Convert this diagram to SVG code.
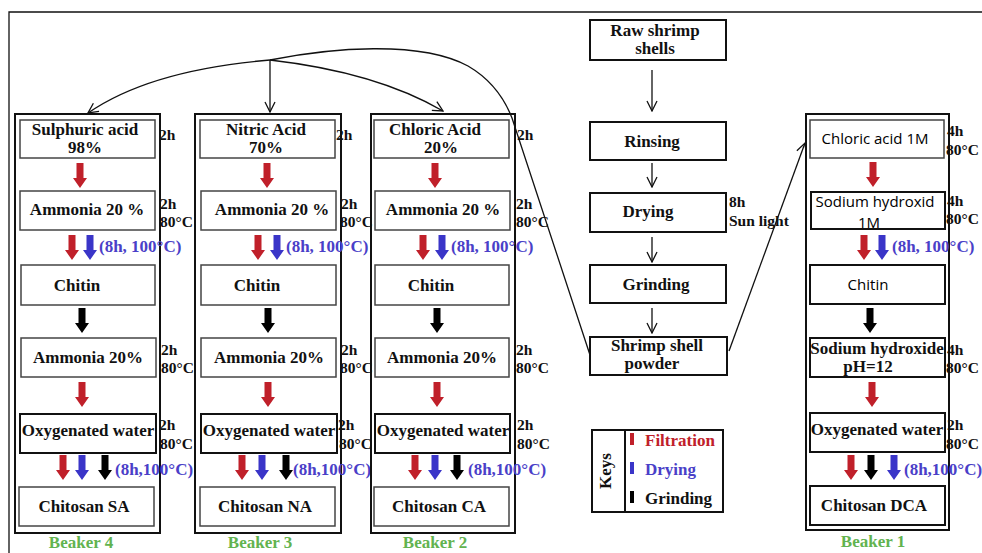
<svg xmlns="http://www.w3.org/2000/svg" xmlns:xlink="http://www.w3.org/1999/xlink" width="982" height="553" viewBox="0 0 982 553">
<style>
.t{font-family:"Liberation Serif","Times New Roman",serif;font-weight:bold;font-size:17px;fill:#111;text-anchor:middle}
.s{font-family:"Liberation Serif","Times New Roman",serif;font-weight:bold;font-size:15.5px;fill:#111}
.c{font-family:"Open Sans","Noto Sans",sans-serif;font-weight:normal;font-size:15px;fill:#000;text-anchor:middle}
.b{font-family:"Liberation Serif","Times New Roman",serif;font-weight:bold;font-size:17px;fill:#4a3fc8}
.g{font-family:"Liberation Serif","Times New Roman",serif;font-weight:bold;font-size:17px;fill:#62b34f;text-anchor:middle}
.k2{font-family:"Liberation Serif","Times New Roman",serif;font-weight:bold;font-size:17px}
.outer{fill:none;stroke:#111;stroke-width:2}
.box{fill:#fff;stroke:#444;stroke-width:1.5}
.bx{fill:#fff;stroke:#111;stroke-width:2}
.ln{fill:none;stroke:#111;stroke-width:1.3}
.r{fill:#c0202a}.u{fill:#3a35c8}.k{fill:#000}
</style>
<defs>
<path id="ar" d="M-3.5,0 H3.5 V15 H7 L0,25 L-7,15 H-3.5 Z"/>
<marker id="open" viewBox="0 0 12 12" refX="11" refY="6" markerWidth="12" markerHeight="12" markerUnits="userSpaceOnUse" orient="auto">
<path d="M1,1 L11,6 L1,11" fill="none" stroke="#111" stroke-width="1.3"/>
</marker>
</defs>
<rect width="982" height="553" fill="#fff"/>
<g id="frame"><path d="M9,553 V12 H982" class="ln" stroke-width="1.5"/></g>

<g id="connectors">
<path class="ln" d="M270,60 Q150,70 88,113" marker-end="url(#open)"/>
<path class="ln" d="M270,60 L270,112" marker-end="url(#open)"/>
<path class="ln" d="M270,60 C340,68 400,86 443,111" marker-end="url(#open)"/>
<path class="ln" d="M270,60 C330,48 420,40 468,66 C492,80 505,100 512,118 L590,355"/>
<path class="ln" d="M729,351 L805,143" marker-end="url(#open)"/>
<path class="ln" d="M652,70 V111" marker-end="url(#open)"/>
<path class="ln" d="M652,163 V187" marker-end="url(#open)"/>
<path class="ln" d="M652,237 V262" marker-end="url(#open)"/>
<path class="ln" d="M652,308 V333" marker-end="url(#open)"/>
</g>

<g id="beaker4">
<rect class="outer" x="15" y="114" width="145" height="419"/>
<rect class="box" x="20" y="120" width="135" height="38"/>
<text class="t" x="85" y="135">Sulphuric acid</text><text class="t" x="85" y="153">98%</text>
<rect class="box" x="20" y="191" width="135" height="39"/>
<text class="t" x="87" y="215">Ammonia 20 %</text>
<rect class="box" x="21" y="265" width="134" height="40"/>
<text class="t" x="77" y="291">Chitin</text>
<rect class="box" x="21" y="338" width="135" height="39"/>
<text class="t" x="88" y="363">Ammonia 20%</text>
<rect class="bx" x="20" y="414" width="136" height="39"/>
<text class="t" x="88" y="436">Oxygenated water</text>
<rect class="box" x="19" y="487" width="135" height="39"/>
<text class="t" x="84" y="512">Chitosan SA</text>
<use href="#ar" x="80" y="163" class="r"/>
<use href="#ar" x="72" y="235" class="r"/><use href="#ar" x="90" y="235" class="u"/>
<text class="b" x="99" y="252">(8h, 100°C)</text>
<use href="#ar" x="82" y="308" class="k"/>
<use href="#ar" x="82" y="382" class="r"/>
<use href="#ar" x="63" y="455" class="r"/><use href="#ar" x="82" y="455" class="u"/><use href="#ar" x="105" y="455" class="k"/>
<text class="b" x="115" y="475">(8h,100°C)</text>
<text class="s" x="159" y="140">2h</text>
<text class="s" x="160" y="209">2h</text><text class="s" x="160" y="227">80°C</text>
<text class="s" x="161" y="355">2h</text><text class="s" x="161" y="373">80°C</text>
<text class="s" x="159" y="430">2h</text><text class="s" x="160" y="449">80°C</text>
<text class="g" x="81" y="548">Beaker 4</text>
</g>

<g id="beaker3">
<rect class="outer" x="195" y="114" width="146" height="419"/>
<rect class="box" x="200" y="120" width="135" height="38"/>
<text class="t" x="266" y="135">Nitric Acid</text><text class="t" x="266" y="153">70%</text>
<rect class="box" x="201" y="191" width="135" height="39"/>
<text class="t" x="272" y="215">Ammonia 20 %</text>
<rect class="box" x="201" y="265" width="135" height="40"/>
<text class="t" x="257" y="291">Chitin</text>
<rect class="box" x="201" y="338" width="135" height="39"/>
<text class="t" x="269" y="363">Ammonia 20%</text>
<rect class="bx" x="201" y="414" width="136" height="39"/>
<text class="t" x="269" y="436">Oxygenated water</text>
<rect class="box" x="200" y="487" width="135" height="39"/>
<text class="t" x="265" y="512">Chitosan NA</text>
<use href="#ar" x="267" y="163" class="r"/>
<use href="#ar" x="258" y="235" class="r"/><use href="#ar" x="277" y="235" class="u"/>
<text class="b" x="286" y="252">(8h, 100°C)</text>
<use href="#ar" x="268" y="308" class="k"/>
<use href="#ar" x="268" y="382" class="r"/>
<use href="#ar" x="242" y="455" class="r"/><use href="#ar" x="262" y="455" class="u"/><use href="#ar" x="286" y="455" class="k"/>
<text class="b" x="293" y="475">(8h,100°C)</text>
<text class="s" x="336" y="140">2h</text>
<text class="s" x="341" y="209">2h</text><text class="s" x="340" y="227">80°C</text>
<text class="s" x="341" y="355">2h</text><text class="s" x="340" y="373">80°C</text>
<text class="s" x="338" y="430">2h</text><text class="s" x="339" y="449">80°C</text>
<text class="g" x="260" y="548">Beaker 3</text>
</g>

<g id="beaker2">
<rect class="outer" x="371" y="114" width="144" height="419"/>
<rect class="box" x="374" y="120" width="135" height="38"/>
<text class="t" x="435" y="135">Chloric Acid</text><text class="t" x="441" y="153">20%</text>
<rect class="box" x="375" y="191" width="135" height="39"/>
<text class="t" x="443" y="215">Ammonia 20 %</text>
<rect class="box" x="375" y="265" width="134" height="40"/>
<text class="t" x="431" y="291">Chitin</text>
<rect class="box" x="375" y="338" width="134" height="39"/>
<text class="t" x="442" y="363">Ammonia 20%</text>
<rect class="bx" x="375" y="414" width="135" height="39"/>
<text class="t" x="443" y="436">Oxygenated water</text>
<rect class="box" x="374" y="487" width="135" height="39"/>
<text class="t" x="439" y="512">Chitosan CA</text>
<use href="#ar" x="435" y="163" class="r"/>
<use href="#ar" x="423" y="235" class="r"/><use href="#ar" x="442" y="235" class="u"/>
<text class="b" x="451" y="252">(8h, 100°C)</text>
<use href="#ar" x="437" y="308" class="k"/>
<use href="#ar" x="437" y="382" class="r"/>
<use href="#ar" x="415" y="455" class="r"/><use href="#ar" x="435" y="455" class="u"/><use href="#ar" x="457" y="455" class="k"/>
<text class="b" x="468" y="475">(8h,100°C)</text>
<text class="s" x="517" y="140">2h</text>
<text class="s" x="516" y="209">2h</text><text class="s" x="516" y="227">80°C</text>
<text class="s" x="516" y="355">2h</text><text class="s" x="516" y="373">80°C</text>
<text class="s" x="517" y="430">2h</text><text class="s" x="517" y="449">80°C</text>
<text class="g" x="435" y="548">Beaker 2</text>
</g>

<g id="beaker1">
<rect class="outer" x="806" y="114" width="143" height="416"/>
<rect class="box" x="810" y="120" width="134" height="38"/>
<text class="c" x="875" y="144">Chloric acid 1M</text>
<rect class="bx" x="811" y="192" width="134" height="37"/>
<text class="c" x="875" y="207">Sodium hydroxid</text><text class="c" x="869" y="228">1M</text>
<rect class="bx" x="810" y="265" width="135" height="39"/>
<text class="c" x="868" y="290">Chitin</text>
<rect class="bx" x="810" y="338" width="135" height="39"/>
<text class="t" x="877" y="354">Sodium hydroxide</text><text class="t" x="868" y="372">pH=12</text>
<rect class="bx" x="810" y="413" width="135" height="39"/>
<text class="t" x="877" y="435">Oxygenated water</text>
<rect class="bx" x="810" y="486" width="135" height="39"/>
<text class="t" x="874" y="511">Chitosan DCA</text>
<use href="#ar" x="873" y="162" class="r"/>
<use href="#ar" x="864" y="235" class="r"/><use href="#ar" x="882" y="235" class="u"/>
<text class="b" x="892" y="252">(8h, 100°C)</text>
<use href="#ar" x="870" y="308" class="k"/>
<use href="#ar" x="872" y="382" class="r"/>
<use href="#ar" x="851" y="455" class="r"/><use href="#ar" x="871" y="455" class="k"/><use href="#ar" x="894" y="455" class="u"/>
<text class="b" x="904" y="475" font-size="16">(8h,100°C)</text>
<text class="s" x="947" y="136">4h</text><text class="s" x="946" y="155">80°C</text>
<text class="s" x="947" y="206">4h</text><text class="s" x="946" y="224">80°C</text>
<text class="s" x="947" y="355">4h</text><text class="s" x="946" y="373">80°C</text>
<text class="s" x="947" y="430">2h</text><text class="s" x="946" y="449">80°C</text>
<text class="g" x="873" y="547">Beaker 1</text>
</g>

<g id="raw"><rect class="bx" x="590" y="20" width="136" height="40"/>
<text class="t" x="655" y="36">Raw shrimp</text><text class="t" x="655" y="54">shells</text></g>
<g id="rinsing"><rect class="bx" x="590" y="122" width="136" height="38"/>
<text class="t" x="652" y="147">Rinsing</text></g>
<g id="drying"><rect class="bx" x="590" y="193" width="136" height="39"/>
<text class="t" x="648" y="217">Drying</text>
<text class="s" x="729" y="207">8h</text><text class="s" x="729" y="226">Sun light</text></g>
<g id="grinding"><rect class="bx" x="590" y="265" width="136" height="38"/>
<text class="t" x="656" y="290">Grinding</text></g>
<g id="powder"><rect class="bx" x="590" y="337" width="137" height="38"/>
<text class="t" x="657" y="351">Shrimp shell</text><text class="t" x="652" y="369">powder</text></g>

<g id="keys">
<rect class="bx" x="592" y="430" width="131" height="82"/>
<line x1="625" y1="430" x2="625" y2="512" stroke="#111" stroke-width="2"/>
<text class="t" font-size="18" transform="translate(611,471) rotate(-90)">Keys</text>
<rect x="630" y="433" width="4" height="12" class="r"/>
<rect x="630" y="462" width="4" height="12" class="u"/>
<rect x="630" y="491" width="4" height="12" class="k"/>
<text class="k2" x="645" y="446" fill="#c0202a">Filtration</text>
<text class="k2" x="645" y="475" fill="#4a3fc8">Drying</text>
<text class="k2" x="645" y="504" fill="#111">Grinding</text>
</g>
</svg>
